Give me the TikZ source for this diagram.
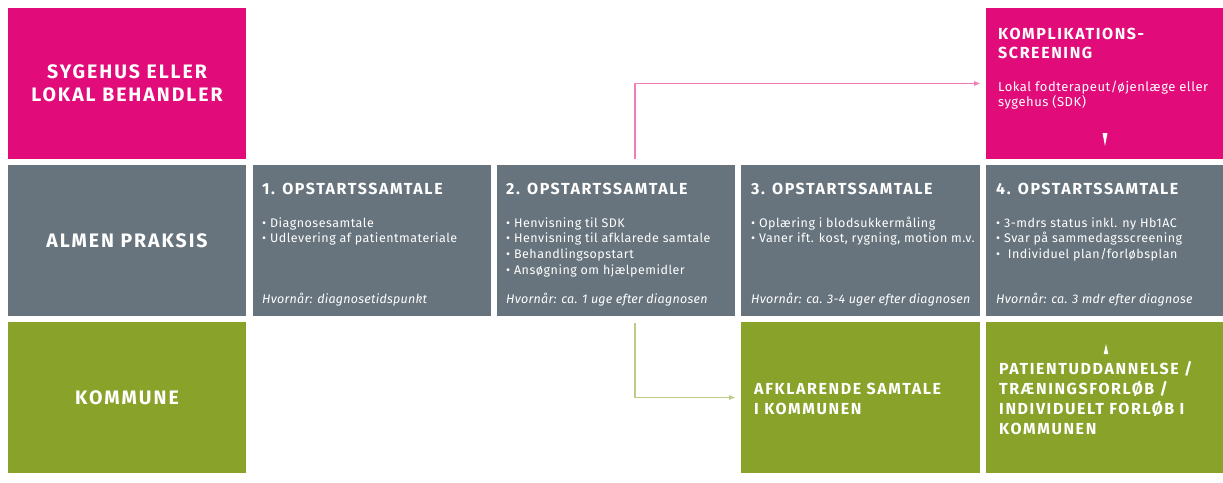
\documentclass[tikz,border=0pt]{standalone}
\usepackage{fontspec}
\setmainfont{Fira Sans}
\newfontfamily\hdfont[LetterSpace=10]{Fira Sans}
\newfontfamily\bdfont[LetterSpace=4]{Fira Sans}
\newfontfamily\wfont[LetterSpace=2]{Fira Sans}
\usetikzlibrary{arrows.meta,calc}
\definecolor{pinkc}{HTML}{E10B7A}
\definecolor{greyc}{HTML}{67747D}
\definecolor{greenc}{HTML}{89A22A}
\definecolor{pinkl}{HTML}{F27DB6}
\definecolor{greenl}{HTML}{BBCB88}
\begin{document}
\begin{tikzpicture}[x=1pt,y=-1pt,
  box/.style={draw=none, inner sep=0pt, outer sep=0pt, anchor=north west, minimum height=151pt},
  pinkbox/.style={box, fill=pinkc},
  greybox/.style={box, fill=greyc},
  greenbox/.style={box, fill=greenc},
  rowlabel/.style={text=white, align=center, font=\fontsize{19.5}{23}\hdfont\bfseries},
  head/.style={anchor=base west, inner sep=0pt, text=white, font=\fontsize{16}{19}\hdfont\bfseries},
  body/.style={anchor=base west, inner sep=0pt, text=white, font=\fontsize{12.5}{15.7}\bdfont},
  pbody/.style={anchor=base west, inner sep=0pt, text=white, font=\fontsize{13}{15.5}\bdfont},
  when/.style={anchor=base west, inner sep=0pt, text=white, font=\fontsize{12.5}{15}\wfont\itshape},
  tri/.style={fill=white, draw=none},
  conn/.style={line width=1.3pt, -{Triangle[length=6pt,width=4.5pt]}, shorten >=6pt}
]
\useasboundingbox (0,0) rectangle (1223,482);
% row labels
\node[pinkbox, minimum width=238pt, rowlabel] (sh) at (8,8) {SYGEHUS ELLER\\LOKAL BEHANDLER};
\node[greybox, minimum width=238pt, rowlabel] (ap) at (8,165) {ALMEN PRAKSIS};
\node[greenbox, minimum width=238pt, rowlabel] (ko) at (8,322) {KOMMUNE};
% grey boxes
\node[greybox, minimum width=238pt] (g1) at (253,165) {};
\node[greybox, minimum width=238pt] (g2) at (497,165) {};
\node[greybox, minimum width=239pt] (g3) at (741,165) {};
\node[greybox, minimum width=237pt] (g4) at (986,165) {};
% pink and green boxes
\node[pinkbox, minimum width=237pt] (kp) at (986,8) {};
\node[greenbox, minimum width=239pt] (k3) at (741,322) {};
\node[greenbox, minimum width=237pt] (k4) at (986,322) {};
% texts in grey boxes
\node[head] (g1h) at (262,194) {1. OPSTARTSSAMTALE};
\node[body] (g1b) at (262,227) {\vtop{\baselineskip=15.7pt\hbox{• Diagnosesamtale}\hbox{• Udlevering af patientmateriale}}};
\node[when] (g1w) at (262,303) {Hvornår: diagnosetidspunkt};
\node[head] (g2h) at (506,194) {2. OPSTARTSSAMTALE};
\node[body] (g2b) at (506,227) {\vtop{\baselineskip=15.7pt\hbox{• Henvisning til SDK}\hbox{• Henvisning til afklarede samtale}\hbox{• Behandlingsopstart}\hbox{• Ansøgning om hjælpemidler}}};
\node[when] (g2w) at (506,303) {Hvornår: ca. 1 uge efter diagnosen};
\node[head] (g3h) at (751,194) {3. OPSTARTSSAMTALE};
\node[body] (g3b) at (751,227) {\vtop{\baselineskip=15.7pt\hbox{• Oplæring i blodsukkermåling}\hbox{• Vaner ift. kost, rygning, motion m.v.}}};
\node[when] (g3w) at (751,303) {Hvornår: ca. 3-4 uger efter diagnosen};
\node[head] (g4h) at (996,194) {4. OPSTARTSSAMTALE};
\node[body] (g4b) at (996,227) {\vtop{\baselineskip=15.7pt\hbox{• 3-mdrs status inkl. ny Hb1AC}\hbox{• Svar på sammedagsscreening}\hbox{•\ \ Individuel plan/forløbsplan}}};
\node[when] (g4w) at (996,303) {Hvornår: ca. 3 mdr efter diagnose};
% pink box text
\node[head] (kph) at (998,39) {\vtop{\baselineskip=19.5pt\hbox{KOMPLIKATIONS-}\hbox{SCREENING}}};
\node[pbody] (kpb) at (998,91) {\vtop{\baselineskip=15.5pt\hbox{Lokal fodterapeut/øjenlæge eller}\hbox{sygehus (SDK)}}};
% green box texts
\node[head] (k3t) at (754,394) {\vtop{\baselineskip=20pt\hbox{AFKLARENDE SAMTALE}\hbox{I KOMMUNEN}}};
\node[head] (k4t) at (999,374) {\vtop{\baselineskip=20pt\hbox{PATIENTUDDANNELSE /}\hbox{TRÆNINGSFORLØB /}\hbox{INDIVIDUELT FORLØB I}\hbox{KOMMUNEN}}};
% small triangles
\fill[tri] (1102.5,133) -- (1107.5,133) -- (1105,146) -- cycle;
\fill[tri] (1103.7,354) -- (1108.3,354) -- (1106,344) -- cycle;
% connectors
\coordinate (pa) at (635,159);
\coordinate (ga) at (635,323);
\draw[conn, pinkl] (pa) |- (kp.west);
\draw[conn, greenl] (ga) |- (k3.west);
\end{tikzpicture}
\end{document}
